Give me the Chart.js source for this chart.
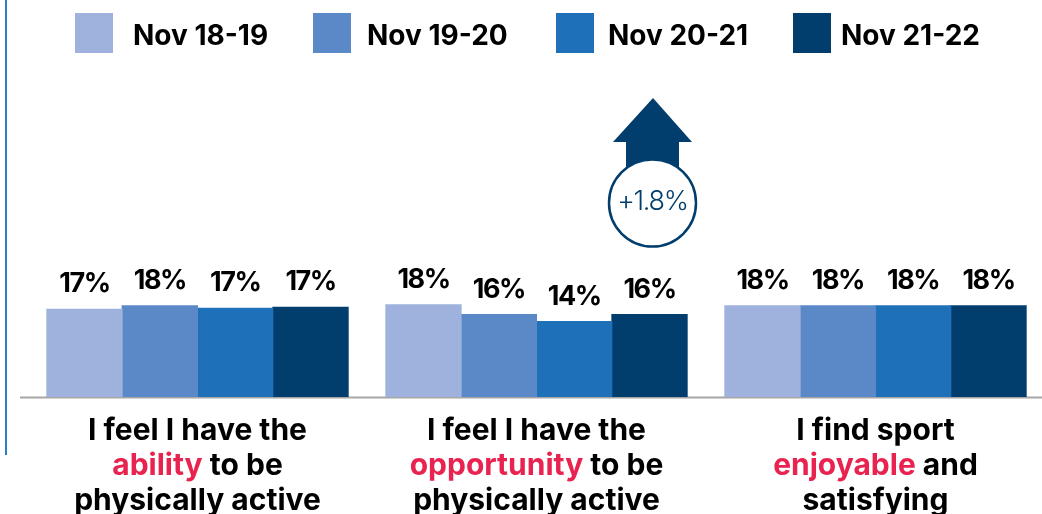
<!DOCTYPE html>
<html>
<head>
<meta charset="utf-8">
<title>Sport attitudes</title>
<script src="https://cdn.jsdelivr.net/npm/chart.js@4"></script>
<style>
  html, body { margin: 0; background: #fff; overflow: hidden; }
  canvas { display: block; }
</style>
</head>
<body>
<canvas id="chart" width="1046" height="514"></canvas>
<script>
const categories = [
  ['I feel I have the', 'ability to be', 'physically active'],
  ['I feel I have the', 'opportunity to be', 'physically active'],
  ['I find sport', 'enjoyable and', 'satisfying']
];
const highlights = ['ability', 'opportunity', 'enjoyable'];

const seriesNames = ['Nov 18-19', 'Nov 19-20', 'Nov 20-21', 'Nov 21-22'];
const seriesColors = ['#9fb2dd', '#5b88c6', '#1e71b8', '#023e6d'];

// bar heights
const nov1819 = [17.2, 18.1, 17.9];
const nov1920 = [17.9, 16.2, 17.9];
const nov2021 = [17.4, 14.8, 17.9];
const nov2122 = [17.6, 16.2, 17.9];
const seriesValues = [nov1819, nov1920, nov2021, nov2122];

// printed labels, they don't always round from the bar height
const labels1819 = ['17%', '18%', '18%'];
const labels1920 = ['18%', '16%', '18%'];
const labels2021 = ['17%', '14%', '18%'];
const labels2122 = ['17%', '16%', '18%'];
const seriesLabels = [labels1819, labels1920, labels2021, labels2122];

const changeText = '+1.8%';

const FONT = 'Inter, sans-serif';
const NAVY = '#023e6d';
const RED = '#e9234f';
const LEGEND_BOX_X = [75, 313, 556, 793];
const LEGEND_TEXT_X = [133, 367, 608, 841];

const decorations = {
  id: 'decorations',
  beforeDraw(chart) {
    const ctx = chart.ctx;
    // blue rule down the left edge
    ctx.fillStyle = '#2a7ec8';
    ctx.fillRect(5, 0, 2, 455);
    // baseline
    const y0 = chart.scales.y.getPixelForValue(0);
    ctx.fillStyle = '#a6a6a6';
    ctx.fillRect(20, y0 - 0.5, 1022, 2);
  },
  afterDatasetsDraw(chart) {
    const ctx = chart.ctx;
    ctx.save();
    ctx.textBaseline = 'middle';

    // legend
    ctx.font = '700 28px ' + FONT;
    ctx.letterSpacing = '0px';
    ctx.textAlign = 'left';
    seriesNames.forEach((name, i) => {
      ctx.fillStyle = seriesColors[i];
      ctx.fillRect(LEGEND_BOX_X[i], 13, 38, 40);
      ctx.fillStyle = '#000';
      ctx.fillText(name, LEGEND_TEXT_X[i], 37);
    });

    // value labels over the bars
    ctx.font = '700 27px ' + FONT;
    ctx.letterSpacing = '-1.5px';
    ctx.textAlign = 'center';
    ctx.fillStyle = '#000';
    seriesLabels.forEach((labels, d) => {
      chart.getDatasetMeta(d).data.forEach((bar, i) => {
        ctx.fillText(labels[i], bar.x, bar.y - 25);
      });
    });

    // category labels, with the key word in red
    ctx.font = '700 30px ' + FONT;
    ctx.letterSpacing = '0px';
    const xScale = chart.scales.x;
    categories.forEach((lines, i) => {
      const cx = xScale.getPixelForValue(i);
      lines.forEach((line, l) => {
        const y = 431 + l * 35;
        const w = ctx.measureText(line).width;
        let tx = cx - w / 2;
        ctx.textAlign = 'left';
        const at = line.indexOf(highlights[i]);
        if (at < 0) {
          ctx.fillStyle = '#000';
          ctx.fillText(line, tx, y);
        } else {
          const rest = line.slice(highlights[i].length);
          ctx.fillStyle = RED;
          ctx.fillText(highlights[i], tx, y);
          tx += ctx.measureText(highlights[i]).width;
          ctx.fillStyle = '#000';
          ctx.fillText(rest, tx, y);
        }
      });
    });

    // up arrow with the change badge
    ctx.fillStyle = NAVY;
    ctx.beginPath();
    ctx.moveTo(653, 98);
    ctx.lineTo(692, 142);
    ctx.lineTo(679, 142);
    ctx.lineTo(679, 168);
    ctx.lineTo(626, 168);
    ctx.lineTo(626, 142);
    ctx.lineTo(613, 142);
    ctx.closePath();
    ctx.fill();
    ctx.beginPath();
    ctx.arc(652.5, 203, 43.5, 0, Math.PI * 2);
    ctx.fillStyle = '#fff';
    ctx.fill();
    ctx.lineWidth = 2.5;
    ctx.strokeStyle = NAVY;
    ctx.stroke();
    ctx.fillStyle = NAVY;
    ctx.font = '300 27px ' + FONT;
    ctx.letterSpacing = '-1.3px';
    ctx.textAlign = 'center';
    ctx.fillText(changeText, 652.5, 202);
    ctx.restore();
  }
};

new Chart(document.getElementById('chart'), {
  type: 'bar',
  data: {
    labels: categories,
    datasets: seriesNames.map((name, i) => ({
      label: name,
      data: seriesValues[i],
      backgroundColor: seriesColors[i],
      barPercentage: 1,
      categoryPercentage: 0.889,
      inflateAmount: 0.5
    }))
  },
  options: {
    responsive: false,
    animation: false,
    layout: { padding: { left: 28, right: 1, top: 295, bottom: 117 } },
    plugins: { legend: { display: false }, tooltip: { enabled: false } },
    scales: {
      x: { display: false },
      y: { display: false, min: 0, max: 20 }
    }
  },
  plugins: [decorations]
});
</script>
</body>
</html>
